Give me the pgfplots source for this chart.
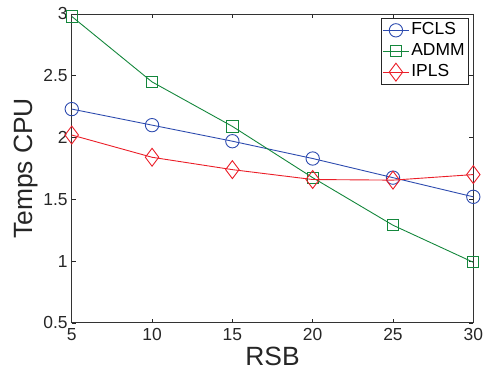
\documentclass[border=0pt]{standalone}
\usepackage{fontspec}
\setmainfont{Liberation Sans}
\usepackage{pgfplots}
\pgfplotsset{compat=1.18}
\definecolor{cblue}{RGB}{45,75,175}
\definecolor{cgreen}{RGB}{20,135,60}
\definecolor{cred}{RGB}{235,30,40}
\begin{document}
\begin{tikzpicture}
\begin{axis}[
  scale only axis,
  width=403pt, height=310pt,
  xmin=5, xmax=30, ymin=0.5, ymax=3,
  xtick={5,10,15,20,25,30},
  ytick={0.5,1,1.5,2,2.5,3},
  yticklabels={0.5,1,1.5,2,2.5,3},
  tick align=inside,
  major tick length=4pt,
  axis line style={black!80, line width=0.8pt},
  every tick/.style={black!85, line width=0.6pt},
  /pgf/number format/assume math mode=true,
  tick label style={font=\fontsize{17.5}{19}\selectfont, text=black!85},
  xticklabel style={inner sep=0pt, yshift=-5pt},
  yticklabel style={inner sep=0pt, xshift=-4pt},
  xlabel={RSB}, ylabel={Temps CPU},
  label style={font=\fontsize{26.5}{28}\selectfont, text=black!85, inner sep=0pt},
  xlabel style={at={(axis description cs:0.5,0)}, anchor=base, yshift=-43pt},
  ylabel style={at={(axis description cs:0,0.5)}, anchor=base, yshift=39pt},
  legend style={at={(0.988,0.987)}, anchor=north east, draw=black!85, line width=0.8pt,
    font=\fontsize{17.5}{19}\selectfont, inner sep=1.5pt, row sep=0pt,
    nodes={inner sep=2pt, text height=13pt, text depth=4pt},
    legend cell align=left},
  legend image code/.code={
    \draw[mark repeat=2,mark phase=2,#1] plot coordinates {(0pt,0pt) (13pt,0pt) (26pt,0pt)};},
]
\addplot[cblue, line width=0.9pt, mark=o, mark size=6.7pt, mark options={line width=0.9pt}]
  coordinates {(5,2.23) (10,2.10) (15,1.97) (20,1.83) (25,1.675) (30,1.52)};
\addlegendentry{FCLS}
\addplot[cgreen, line width=0.9pt, mark=square, mark size=5.6pt, mark options={line width=0.9pt}]
  coordinates {(5,2.98) (10,2.45) (15,2.09) (20,1.675) (25,1.29) (30,0.99)};
\addlegendentry{ADMM}
\addplot[cred, line width=0.9pt, mark=diamond, mark size=9pt, mark options={line width=0.9pt}]
  coordinates {(5,2.02) (10,1.84) (15,1.74) (20,1.66) (25,1.655) (30,1.70)};
\addlegendentry{IPLS}
\end{axis}
\path (current axis.south west) ++(-72pt,-48pt);
\path (current axis.north east) ++(8pt,14pt);
\end{tikzpicture}
\end{document}
